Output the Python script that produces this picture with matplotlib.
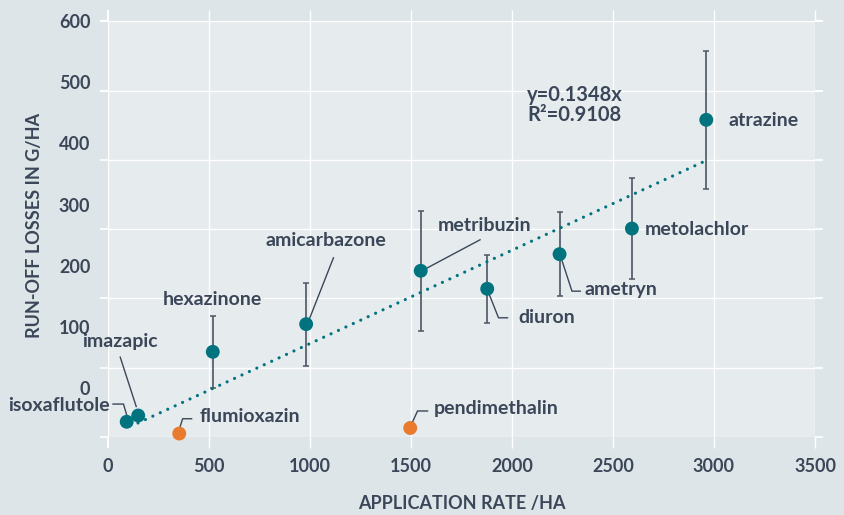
import matplotlib
matplotlib.use("Agg")
import matplotlib.pyplot as plt
import matplotlib.transforms as mtransforms
import numpy as np

# ---------------- data ----------------
herbicides = ["isoxaflutole", "imazapic", "flumioxazin", "pendimethalin", "hexazinone",
              "amicarbazone", "metribuzin", "diuron", "ametryn", "metolachlor", "atrazine"]
app_rate = [94, 151, 354, 1497, 520, 982, 1549, 1878, 2236, 2594, 2962]
runoff = [22, 31, 5, 13, 123, 163, 240, 214, 264, 301, 458]
runoff_err = [0, 0, 0, 0, 52, 60, 87, 49, 61, 73, 100]
is_orange = [False, False, True, True, False, False, False, False, False, False, False]

trend_slope = 0.1348
trend_r2 = 0.9108
trend_x_range = (150, 2962)

x_ticks = [0, 500, 1000, 1500, 2000, 2500, 3000, 3500]
y_ticks = [0, 100, 200, 300, 400, 500, 600]

# ---------------- style ----------------
BG = "#dee5e8"
PANEL = "#e6ebee"
TEXT = "#3b4759"
TEAL = "#00737f"
ORANGE = "#e87b2e"
GREY = "#7c8691"
ERR = "#4d5664"

plt.rcParams['font.family'] = ['Lato', 'DejaVu Sans']
plt.rcParams['font.weight'] = 'bold'

fig = plt.figure(figsize=(8.44, 5.15), dpi=100, facecolor=BG)
W, H = 844, 515
left, right, top, bottom = 107.7, 815.0, 21.0, 437.0
ax = fig.add_axes([left / W, (H - bottom) / H, (right - left) / W, (bottom - top) / H], facecolor=PANEL)
ax.set_xlim(0, 3500)
ax.set_ylim(0, 600)
for s in ax.spines.values():
    s.set_visible(False)

# grid
ax.set_axisbelow(True)
ax.grid(True, color="white", lw=1.0)

# x ticks
ax.set_xticks(x_ticks)
ax.set_xticklabels([str(v) for v in x_ticks], fontsize=13, fontweight='bold', color=TEXT)
ax.tick_params(axis='x', which='major', bottom=True, top=True, length=8, width=1.0,
               color="white", pad=7)
xt = ax.xaxis.get_major_ticks()
xt[0].tick1line.set_color(GREY)
xt[0].tick2line.set_color(GREY)
xt[0].tick1line.set_markeredgewidth(1.4)
xt[0].tick2line.set_markeredgewidth(1.4)

# y ticks: marks on grid positions, labels at their own (shifted) positions
ax.set_yticks(y_ticks)
ax.set_yticklabels([""] * len(y_ticks))
ax.tick_params(axis='y', which='major', left=True, right=True, length=5.5, width=1.2, color="white")
yt = ax.yaxis.get_major_ticks()
for i in (-1, -2):
    yt[i].tick1line.set_color(GREY)
    yt[i].tick2line.set_color(GREY)
    yt[i].tick1line.set_markeredgewidth(1.5)
    yt[i].tick2line.set_markeredgewidth(1.5)
label_pos = [v * 0.8833 + 70.7 for v in y_ticks]
ax.set_yticks(label_pos, minor=True)
ax.set_yticklabels([str(v) for v in y_ticks], minor=True, fontsize=13, fontweight='bold', color=TEXT)
ax.tick_params(axis='y', which='minor', length=0, pad=12.5, right=False)

ax.set_xlabel("APPLICATION RATE /HA", fontsize=13, fontweight='bold', color=TEXT)
ax.set_ylabel("RUN-OFF LOSSES IN G/HA", fontsize=13, fontweight='bold', color=TEXT)
ax.xaxis.set_label_coords(0.5, -0.161)
ax.yaxis.set_label_coords(-0.1028, 0.5096)
ax.xaxis.label.set_va('center')
ax.yaxis.label.set_va('center')

# error bars
xe = [x for x, e in zip(app_rate, runoff_err) if e > 0]
ye = [y for y, e in zip(runoff, runoff_err) if e > 0]
ee = [e for e in runoff_err if e > 0]
ax.errorbar(xe, ye, yerr=ee, fmt='none', ecolor=ERR, elinewidth=1.2, capsize=2.2,
            capthick=1.1, zorder=2)

# trend line
tx = np.array(trend_x_range)
ax.plot(tx, trend_slope * tx, color=TEAL, lw=2.3, linestyle=(0, (0.01, 2.55)),
        dash_capstyle='round', zorder=3)
ax.annotate(f"y={trend_slope}x\nR²={trend_r2}", xy=(0, 0), xycoords='axes pixels',
            xytext=(527.3 - left, bottom - 105), textcoords='axes pixels',
            fontsize=14.5, fontweight='bold', color=TEXT, ha='left', va='center',
            linespacing=1.0)

# points
colors = [ORANGE if o else TEAL for o in is_orange]
ax.scatter(app_rate, runoff, s=10 ** 2, c=colors, zorder=5, linewidths=0, clip_on=False)

# labels: (text offset px, ha, leader path offsets px) – image pixel offsets (y down)
label_layout = {
    "isoxaflutole": ((-16.7, -16.7), 'right', [(-13.7, -17.7), (-3.2, -17.7), (0.3, -5.7)]),
    "imazapic": ((-18.3, -74.0), 'center', [(-18.0, -58.4), (-2.0, -9.0)]),
    "flumioxazin": ((20.0, -16.6), 'left', [(0.7, -6.3), (3.4, -14.8), (12.4, -14.8)]),
    "pendimethalin": ((24.0, -19.4), 'left', [(2.3, -6.0), (7.3, -17.0), (17.3, -17.0)]),
    "hexazinone": ((0.0, -52.0), 'center', None),
    "amicarbazone": ((19.5, -83.3), 'center', [(27.3, -66.3), (3.3, -5.3)]),
    "metribuzin": ((16.6, -45.3), 'left', [(59.3, -31.0), (6.0, -2.6)]),
    "diuron": ((31.3, 28.6), 'left', [(2.3, 6.3), (11.3, 29.0), (20.3, 29.0)]),
    "ametryn": ((25.0, 35.6), 'left', [(2.4, 6.3), (12.4, 37.0), (20.7, 37.0)]),
    "metolachlor": ((12.6, 1.0), 'left', None),
    "atrazine": ((22.3, 0.7), 'left', None),
}
for name, x, y in zip(herbicides, app_rate, runoff):
    (dx, dy), ha, path = label_layout[name]
    ax.annotate(name, xy=(x, y), xytext=(dx, -dy), textcoords='offset pixels',
                ha=ha, va='center', fontsize=14, fontweight='bold', color=TEXT, zorder=6)
    if path:
        tr = mtransforms.Affine2D().scale(1, -1) + mtransforms.ScaledTranslation(x, y, ax.transData)
        px = [p[0] for p in path]
        py = [p[1] for p in path]
        ax.plot(px, py, color=TEXT, lw=1.0, transform=tr, clip_on=False, zorder=4)

fig.savefig("out.png", dpi=100, facecolor=BG)
